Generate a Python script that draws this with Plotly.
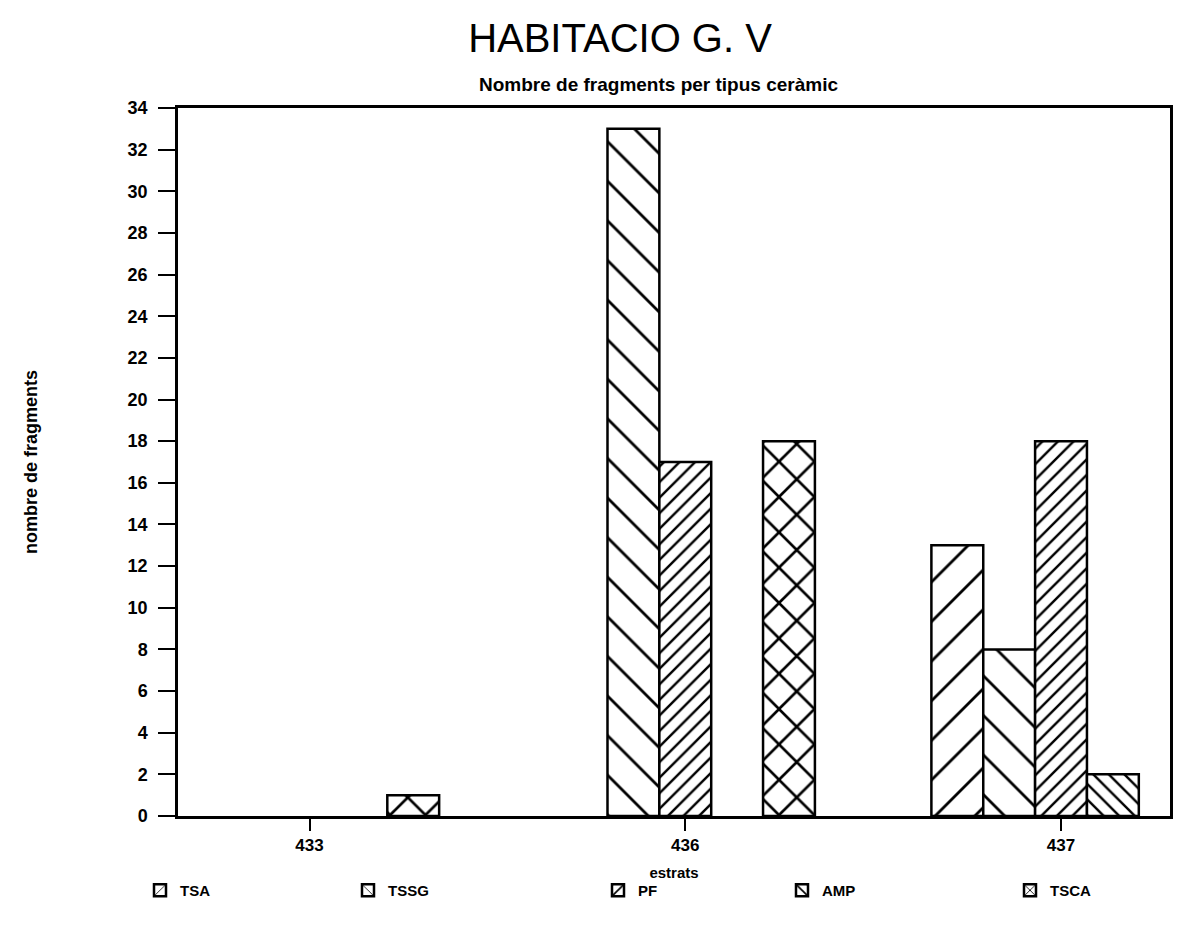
import plotly.graph_objects as go

# ---- data ----
categories = ["433", "436", "437"]
series_names = ["TSA", "TSSG", "PF", "AMP", "TSCA"]
tsa = [0, 0, 13]
tssg = [0, 33, 8]
pf = [0, 17, 18]
amp = [0, 0, 2]
tsca = [1, 18, 0]
y_tick_values = list(range(0, 35, 2))

series_values = [tsa, tssg, pf, amp, tsca]

# hatch style per series: (shape, tile size, solidity)
hatch = {
    "TSA": ("/", 28, 0.10),
    "TSSG": ("\\", 28, 0.10),
    "PF": ("/", 11, 0.22),
    "AMP": ("\\", 11, 0.22),
    "TSCA": ("x", 25, 0.20),
}

# legend entry left positions (px) for each series
legend_left_px = [132, 340, 590, 774, 1002]

FONT = "Liberation Sans"

L, R, T, B = 170, 32, 100, 144
W, H = 1194, 952
plot_w = W - L - R
plot_h = H - T - B

fig = go.Figure()
legend_layouts = {}
for i, (name, vals) in enumerate(zip(series_names, series_values)):
    shape, size, solid = hatch[name]
    lg = "legend" if i == 0 else f"legend{i + 1}"
    fig.add_trace(go.Bar(
        x=categories,
        # zero counts are left undrawn, as in the reference
        y=[v if v else None for v in vals],
        name=name,
        legend=lg,
        marker=dict(
            color="white",
            line=dict(color="black", width=2.5),
            pattern=dict(shape=shape, size=size, solidity=solid,
                         fgcolor="black", fgopacity=1, bgcolor="white",
                         fillmode="overlay"),
        ),
    ))
    legend_layouts[lg] = dict(
        orientation="h",
        x=(legend_left_px[i] - L) / plot_w, xanchor="left",
        y=-(866 - (H - B)) / plot_h, yanchor="top",
        font=dict(family=FONT, size=15, color="black", weight="bold"),
        bgcolor="rgba(0,0,0,0)",
        itemclick=False, itemdoubleclick=False,
    )

fig.update_layout(
    width=W, height=H,
    margin=dict(l=L, r=R, t=T, b=B, autoexpand=False),
    paper_bgcolor="white",
    plot_bgcolor="white",
    barmode="group",
    bargap=0.31,
    bargroupgap=0,
    font=dict(family=FONT, color="black", size=15),
    title=dict(
        text="HABITACIO G. V",
        x=612 / W, xanchor="center",
        y=1 - 30 / H, yanchor="middle",
        font=dict(family=FONT, size=40, color="black"),
    ),
    showlegend=True,
    annotations=[
        dict(
            text="<b>Nombre de fragments per tipus ceràmic</b>",
            xref="paper", yref="paper",
            x=(650 - L) / plot_w, y=1 + (T - 76) / plot_h,
            xanchor="center", yanchor="middle",
            showarrow=False,
            font=dict(family=FONT, size=19, color="black"),
        )
    ],
    **legend_layouts,
)

fig.update_xaxes(
    type="category",
    range=[-0.35, 2.29],
    showline=True, linecolor="black", linewidth=2.5, mirror=True,
    ticks="outside", ticklen=12, tickwidth=2, tickcolor="black",
    tickfont=dict(family=FONT, size=17, color="black", weight="bold"),
    showgrid=False, zeroline=False,
    title=dict(text="<b>estrats</b>", standoff=14,
               font=dict(family=FONT, size=15, color="black")),
)

fig.update_yaxes(
    range=[0, 34],
    tickmode="array", tickvals=y_tick_values,
    ticktext=[str(v) for v in y_tick_values],
    showline=True, linecolor="black", linewidth=2.5, mirror=True,
    ticks="outside", ticklen=17, tickwidth=2, tickcolor="black",
    ticklabelstandoff=7,
    tickfont=dict(family=FONT, size=18, color="black", weight="bold"),
    showgrid=False, zeroline=False,
    title=dict(text="<b>nombre de fragments</b>", standoff=86,
               font=dict(family=FONT, size=18, color="black")),
)

fig.write_html("out.html")
